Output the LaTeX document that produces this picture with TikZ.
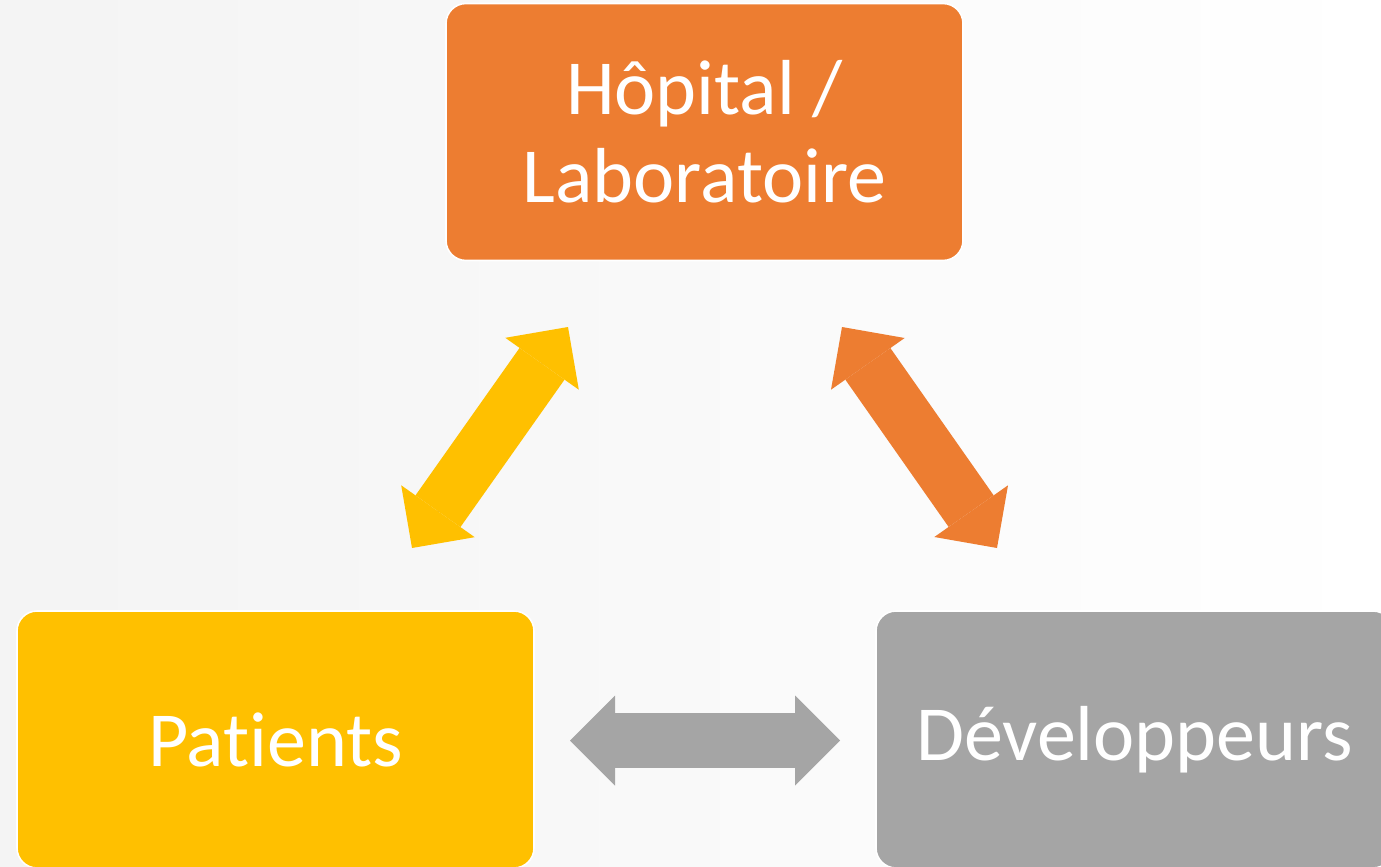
\documentclass[tikz,border=0pt]{standalone}
\usepackage{fontspec}
\setmainfont{Carlito}[Ligatures={NoCommon,NoContextual}]
\usetikzlibrary{positioning,calc,arrows.meta}

\definecolor{hosporange}{HTML}{ED7D31}
\definecolor{patyellow}{HTML}{FFC000}
\definecolor{devgray}{HTML}{A5A5A5}

\tikzset{
	box/.style={rounded corners=10pt, minimum width=258.5pt, minimum height=128.5pt,
		draw=white, line width=0.8pt, text=white, align=center,
		font=\fontsize{39}{44}\selectfont},
	bigtip/.tip={Triangle[length=22.5pt, width=45pt, line width=0pt]},
	link/.style={line width=27.5pt, bigtip-bigtip,
		preaction={draw, arrows=-, shorten <=16pt, shorten >=16pt}}
}

\begin{document}
\begin{tikzpicture}[x=0.5pt, y=-0.5pt]
	\useasboundingbox (0,0) rectangle (1381,867);
	\clip (0,0) rectangle (1381,867);
	\fill [left color=gray!9, right color=white] (0,0) rectangle (1381,867);

	\begin{scope}
		\node [box, fill=hosporange] (hosp) at (704.5, 132) {Hôpital /\\Laboratoire};
		\node [box, fill=patyellow]  (pat)  at (275.5, 739.5) {Patients};
		\node [box, fill=devgray]    (dev)  at (1134.5, 739.5) {Développeurs};

		% free ends of the links
		\coordinate (pl) at (412, 548);
		\coordinate (ph) at (568, 327);
		\coordinate (hd) at (842, 327);
		\coordinate (dh) at (997, 548);
		\coordinate (pd) at (570, 740.5);
		\coordinate (dp) at (840, 740.5);

		\draw [link, patyellow]  (pl) -- (ph);
		\draw [link, hosporange] (hd) -- (dh);
		\draw [link, devgray]    (pd) -- (dp);
	\end{scope}
\end{tikzpicture}
\end{document}
